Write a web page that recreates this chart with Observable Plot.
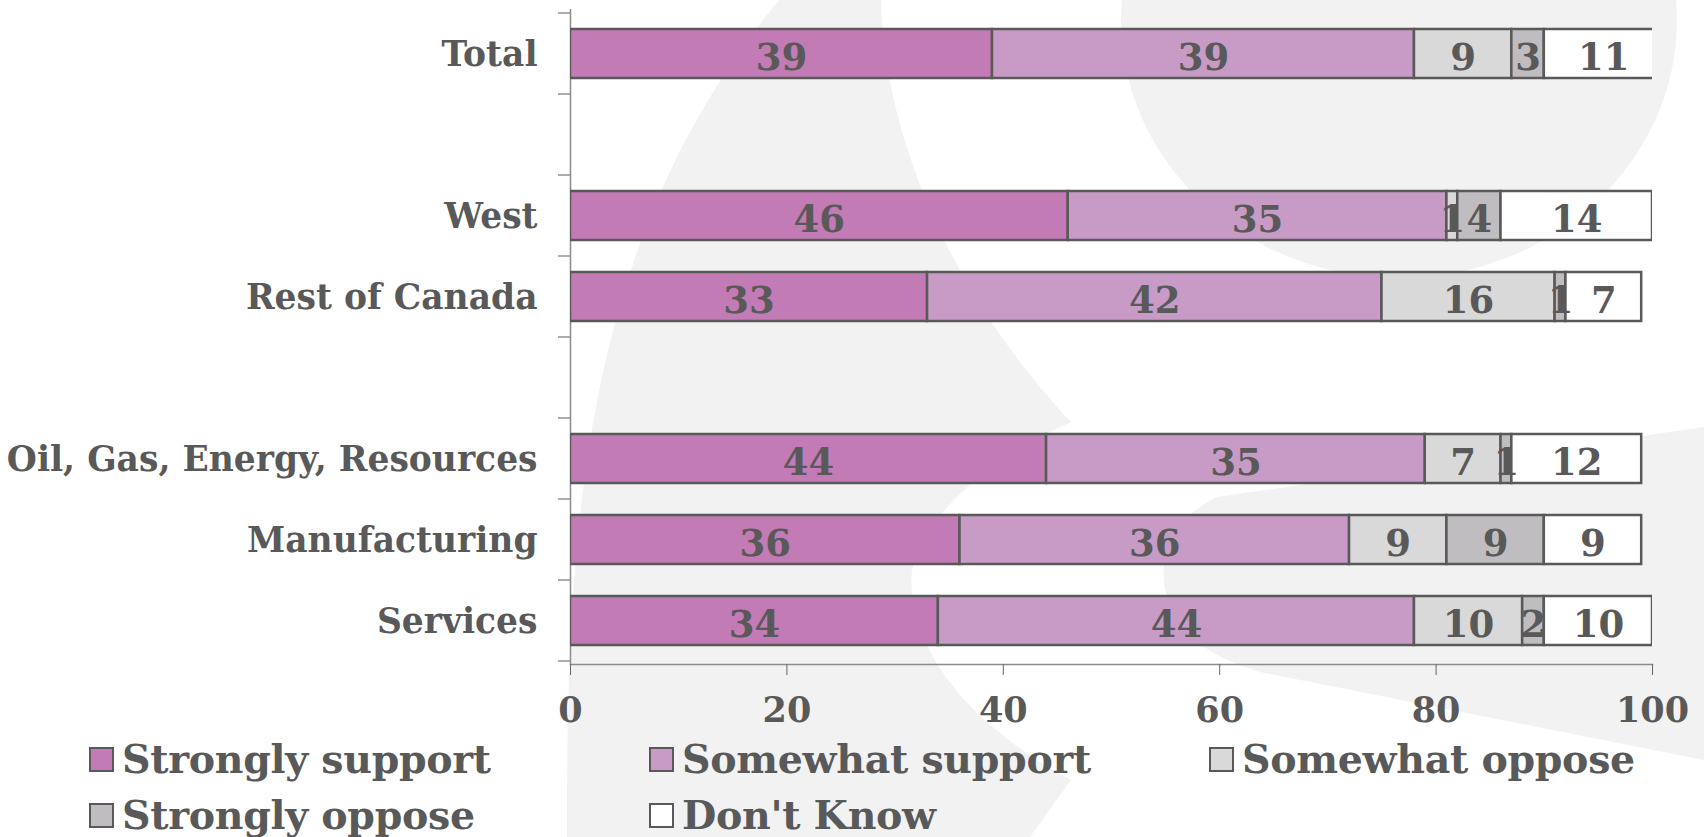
<!DOCTYPE html>
<html>
<head>
<meta charset="utf-8">
<script src="https://cdn.jsdelivr.net/npm/d3@7"></script>
<script src="https://cdn.jsdelivr.net/npm/@observablehq/plot@0.6"></script>
<style>
  html, body { margin: 0; padding: 0; background: #ffffff; }
  body { width: 1704px; height: 837px; position: relative; overflow: hidden;
         font-family: "DejaVu Serif", Georgia, serif; font-weight: bold; color: #595959; }
  #bg { position: absolute; left: 0; top: 0; z-index: 0; }
  #chart { position: absolute; left: 0; top: 0; z-index: 1; }
  #legend { position: absolute; left: 89px; top: 731px; width: 1700px; z-index: 2;
            display: flex; flex-wrap: wrap; }
  .item { width: 560px; height: 56px; display: flex; align-items: center; font-size: 39.5px; white-space: nowrap; letter-spacing: -0.3px; }
  .sw { width: 21px; height: 21px; border: 2px solid #595959; margin-right: 8px; flex: none; }
</style>
</head>
<body>
<svg id="bg" width="1704" height="837" viewBox="0 0 1704 837">
  <g fill="#f2f2f2">
    <path d="M 779 0 L 881 0 C 883 110, 930 230, 990 320 C 1020 365, 1050 400, 1071 422 C 1010 450, 930 500, 912 570 C 905 640, 960 720, 1071 780 L 1030 837 L 567 837 C 566 500, 590 230, 779 0 Z"/>
    <ellipse cx="1399" cy="20" rx="278" ry="258"/>
    <path d="M 1704 427 L 1217 497 C 1170 520, 1155 560, 1168 600 C 1180 640, 1220 660, 1260 672 L 1704 760 Z"/>
  </g>
</svg>
<div id="chart"></div>
<div id="legend"></div>
<script>
// ---- data ----
const categories = ["Total", "", "West", "Rest of Canada", " ", "Oil, Gas, Energy, Resources", "Manufacturing", "Services"];
const rows = ["Total", "West", "Rest of Canada", "Oil, Gas, Energy, Resources", "Manufacturing", "Services"];
const seriesNames = ["Strongly support", "Somewhat support", "Somewhat oppose", "Strongly oppose", "Don't Know"];
const stronglySupport = [39, 46, 33, 44, 36, 34];
const somewhatSupport = [39, 35, 42, 35, 36, 44];
const somewhatOppose  = [9, 1, 16, 7, 9, 10];
const stronglyOppose  = [3, 4, 1, 1, 9, 2];
const dontKnow        = [11, 14, 7, 12, 9, 10];
const xTicks = [0, 20, 40, 60, 80, 100];
const colors = ["#c27bb5", "#c89bc6", "#d9d9d9", "#bfbdbf", "#ffffff"];

const seriesValues = [stronglySupport, somewhatSupport, somewhatOppose, stronglyOppose, dontKnow];
const data = [];
rows.forEach((r, i) => seriesNames.forEach((s, j) => data.push({row: r, series: s, value: seriesValues[j][i]})));

const W = 1704, H = 735, mTop = 9, mBottom = 71, mLeft = 570, mRight = 52;
const ink = "#595959";

// tick marks on the y axis at band boundaries (computed from the band scale)
function bandBoundaryTicks(index, scales, values, dimensions) {
  const y = scales.y;
  const bw = typeof y.bandwidth === "function" ? y.bandwidth() : scales.scales.y.bandwidth;
  const step = typeof y.step === "function" ? y.step() : scales.scales.y.step;
  const dom = categories;
  const pos = dom.map(c => y(c) - (step - bw) / 2);
  pos.push(y(dom[dom.length - 1]) + bw + (step - bw) / 2);
  const g = d3.create("svg:g").attr("stroke", "#808080").attr("stroke-width", 1.3);
  const x0 = dimensions.marginLeft;
  for (const p of pos) g.append("line").attr("x1", x0 - 12).attr("x2", x0).attr("y1", p).attr("y2", p);
  return g.node();
}

const plot = Plot.plot({
  width: W, height: H,
  marginTop: mTop, marginBottom: mBottom, marginLeft: mLeft, marginRight: mRight,
  style: {background: "transparent", fontFamily: "DejaVu Serif", fontWeight: "bold", color: ink},
  x: {domain: [0, 100]},
  y: {domain: categories, paddingInner: 0.4, paddingOuter: 0.2, align: 0.5},
  color: {domain: seriesNames, range: colors},
  marks: [
    Plot.frame({anchor: "bottom", stroke: "#8c8c8c", strokeWidth: 1.5}),
    Plot.ruleX([0], {stroke: "#8c8c8c", strokeWidth: 1.5}),
    Plot.axisX({ticks: xTicks, tickSize: 11, tickPadding: 22, fontSize: 35, fill: ink, stroke: "#666", label: null}),
    Plot.axisY({tickSize: 0, tickPadding: 33, fontSize: 34.5, fill: ink, label: null, dy: 1}),
    bandBoundaryTicks,
    Plot.barX(data, Plot.stackX({x: "value", y: "row", fill: "series", order: seriesNames,
      stroke: ink, strokeWidth: 2.5, clip: true})),
    Plot.text(data, Plot.stackX({x: "value", y: "row", z: "series", text: d => String(d.value), order: seriesNames,
      fill: ink, fontSize: 37, fontWeight: "bold", dy: 4}))
  ]
});
document.getElementById("chart").appendChild(plot);

// legend
const legend = d3.select("#legend");
seriesNames.forEach((name, i) => {
  const it = legend.append("div").attr("class", "item");
  it.append("div").attr("class", "sw").style("background", colors[i]);
  it.append("span").text(name);
});
</script>
</body>
</html>
